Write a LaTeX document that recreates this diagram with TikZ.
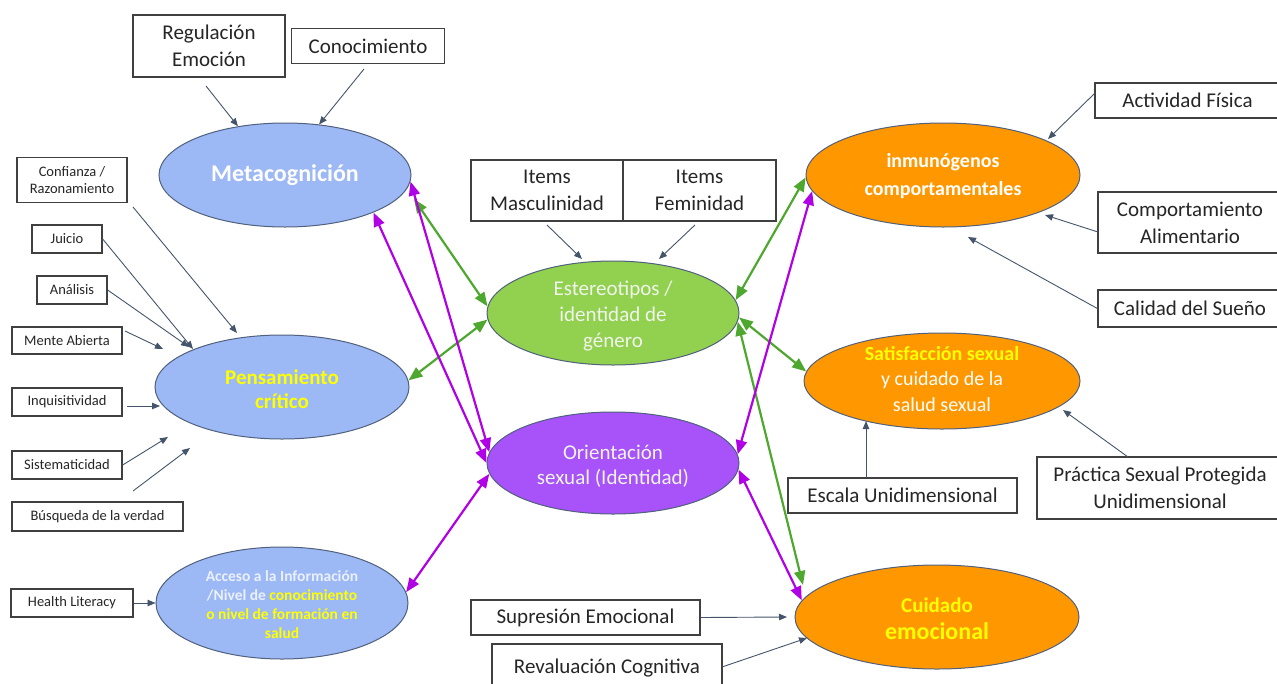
\documentclass[tikz,border=0pt]{standalone}
\usepackage{fontspec}
\setmainfont{Carlito}
\usetikzlibrary{shapes.geometric,arrows.meta}
\definecolor{boxc}{RGB}{64,64,64}
\definecolor{ellc}{RGB}{80,96,125}
\definecolor{bluef}{RGB}{156,184,245}
\definecolor{greenf}{RGB}{146,208,80}
\definecolor{purplef}{RGB}{168,82,250}
\definecolor{orangef}{RGB}{255,152,0}
\definecolor{garr}{RGB}{78,167,46}
\definecolor{parr}{RGB}{175,0,230}
\definecolor{navy}{RGB}{68,84,106}
\definecolor{yel}{RGB}{255,255,0}
\definecolor{ltxt}{RGB}{240,245,235}
\definecolor{btxt}{RGB}{235,240,255}
\tikzset{
  box/.style={draw=boxc,line width=1.3pt,fill=white,inner sep=0pt,align=center,
    font=\fontsize{21}{27}\selectfont,text=black!85},
  sbox/.style={box,font=\fontsize{14.5}{17}\selectfont},
  ell/.style={ellipse,draw=ellc,line width=1pt,inner sep=0pt},
  lab/.style={align=center,inner sep=0pt},
  nav/.style={draw=navy,line width=0.9pt,-{Triangle[length=8pt,width=6.5pt]}},
  grn/.style={draw=garr,line width=2.2pt,{Triangle[length=14pt,width=11pt]}-{Triangle[length=14pt,width=11pt]}},
  prp/.style={draw=parr,line width=2.2pt,{Triangle[length=14pt,width=11pt]}-{Triangle[length=14pt,width=11pt]}},
}
\begin{document}
\begin{tikzpicture}[x=1pt,y=-1pt]
\useasboundingbox (0,0) rectangle (1277,683);

% ellipses
\node[ell,fill=bluef,minimum width=252pt,minimum height=104pt] (meta) at (285,175) {};
\node[ell,fill=bluef,minimum width=254pt,minimum height=104pt] (pens) at (282,387) {};
\node[ell,fill=bluef,minimum width=252pt,minimum height=112pt] (acc) at (282,603) {};
\node[ell,fill=greenf,minimum width=252pt,minimum height=104pt] (est) at (613,313) {};
\node[ell,fill=purplef,minimum width=252pt,minimum height=102pt] (ori) at (613,463) {};
\node[ell,fill=orangef,minimum width=274pt,minimum height=104pt] (inm) at (943,175) {};
\node[ell,fill=orangef,minimum width=276pt,minimum height=96pt] (sat) at (942,381) {};
\node[ell,fill=orangef,minimum width=284pt,minimum height=104pt] (cui) at (937,617) {};

% boxes
\node[box,minimum width=152pt,minimum height=62pt] (reg) at (209,46) {Regulación\\Emoción};
\node[box,minimum width=153pt,minimum height=35pt] (con) at (368,46) {Conocimiento};
\node[sbox,minimum width=110pt,minimum height=45pt] (conf) at (72,180) {Confianza /\\Razonamiento};
\node[sbox,minimum width=70pt,minimum height=28pt] (jui) at (67,239) {Juicio};
\node[sbox,minimum width=70pt,minimum height=28pt] (ana) at (72,290) {Análisis};
\node[sbox,minimum width=110pt,minimum height=27pt] (men) at (67,340.5) {Mente Abierta};
\node[sbox,minimum width=110pt,minimum height=28pt] (inq) at (67,402) {Inquisitividad};
\node[sbox,minimum width=110pt,minimum height=28pt] (sis) at (67,465) {Sistematicidad};
\node[sbox,minimum width=171pt,minimum height=29pt] (bus) at (97.5,516.5) {Búsqueda de la verdad};
\node[sbox,minimum width=122pt,minimum height=28pt] (hl) at (72,603) {Health Literacy};
\node[box,minimum width=152pt,minimum height=61pt] (mas) at (547,190.5) {Items\\Masculinidad};
\node[box,minimum width=153pt,minimum height=61pt] (fem) at (699.5,190.5) {Items\\Feminidad};
\node[box,minimum width=185pt,minimum height=35pt] (act) at (1187.5,100.5) {Actividad Física};
\node[box,minimum width=184pt,minimum height=61pt] (com) at (1190,222.5) {Comportamiento\\Alimentario};
\node[box,minimum width=184pt,minimum height=37pt] (cal) at (1190,308.5) {Calidad del Sueño};
\node[box,minimum width=229pt,minimum height=35pt] (esc) at (902.5,495.5) {Escala Unidimensional};
\node[box,minimum width=246pt,minimum height=62pt] (pra) at (1160,488) {Práctica Sexual Protegida\\Unidimensional};
\node[box,minimum width=229pt,minimum height=35pt] (sup) at (585.5,617.5) {Supresión Emocional};
\node[box,minimum width=230pt,minimum height=48pt] (rev) at (607,668) {Revaluación Cognitiva};

% navy connector free ends
\coordinate (regS) at (206,86);
\coordinate (conS) at (364,69);
\coordinate (confS) at (133,207);  \coordinate (confE) at (237,333);
\coordinate (juiE) at (193,349);
\coordinate (anaE) at (189,347);
\coordinate (menS) at (125,331);   \coordinate (menE) at (163,349);
\coordinate (inqS) at (127,406);   \coordinate (inqE) at (160,406);
\coordinate (sisE) at (168,437);
\coordinate (busS) at (133,491);   \coordinate (busE) at (190,448);
\coordinate (masS) at (547,225);   \coordinate (masE) at (582,259);
\coordinate (femS) at (695,225);   \coordinate (femE) at (659,259);
\coordinate (actS) at (1095,93);   \coordinate (actE) at (1048,139);
\coordinate (comS) at (1098,232);  \coordinate (comE) at (1045,215);
\coordinate (calE) at (968,237);
\coordinate (escS) at (866,478);   \coordinate (escE) at (866,421);
\coordinate (praS) at (1128,457);  \coordinate (praE) at (1063,410);
\coordinate (supE) at (787,617);
\coordinate (revS) at (722,667);   \coordinate (revE) at (807,638);
% coloured connector free ends
\coordinate (grnM) at (414,199);
\coordinate (grnC) at (803,585);

% navy arrows
\draw[nav] (regS) -- (meta.134);
\draw[nav] (conS) -- (meta.56);
\draw[nav] (confS) -- (confE);
\draw[nav] (jui.east) -- (juiE);
\draw[nav] (ana.east) -- (anaE);
\draw[nav] (menS) -- (menE);
\draw[nav] (inqS) -- (inqE);
\draw[nav] (sis.east) -- (sisE);
\draw[nav] (busS) -- (busE);
\draw[nav] (hl.east) -- (acc.west);
\draw[nav] (masS) -- (masE);
\draw[nav] (femS) -- (femE);
\draw[nav] (actS) -- (actE);
\draw[nav] (comS) -- (comE);
\draw[nav] (cal.west) -- (calE);
\draw[nav] (escS) -- (escE);
\draw[nav] (praS) -- (praE);
\draw[nav] (sup.east) -- (supE);
\draw[nav] (revS) -- (revE);

% green arrows
\draw[grn] (grnC) -- (est.-4);
\draw[grn] (grnM) -- (est.177);
\draw[grn] (pens.3) -- (est.183);
\draw[grn] (est.6) -- (inm.181);
\draw[grn] (est.-2) -- (sat.176);

% purple arrows
\draw[prp] (meta.-3) -- (ori.175);
\draw[prp] (meta.-23) -- (ori.180);
\draw[prp] (ori.185) -- (acc.5);
\draw[prp] (ori.4) -- (inm.187);
\draw[prp] (ori.-3) -- (cui.173);

% ellipse labels
\node[lab,text=white,font=\bfseries\fontsize{24}{28}\selectfont] (metaT) at (285,175) {Metacognición};
\node[lab,text=yel,font=\bfseries\fontsize{21}{24}\selectfont] (pensT) at (282,389) {Pensamiento\\crítico};
\node[lab,text=btxt,font=\bfseries\fontsize{15.5}{19}\selectfont] (accT) at (282,605) {Acceso a la Información\\/Nivel de \textcolor{yel}{conocimiento}\\\textcolor{yel}{o nivel de formación en}\\\textcolor{yel}{salud}};
\node[lab,text=ltxt,font=\fontsize{21}{26}\selectfont] (estT) at (613,316) {Estereotipos /\\identidad de\\género};
\node[lab,text=ltxt,font=\fontsize{21}{25}\selectfont] (oriT) at (613,466) {Orientación\\sexual (Identidad)};
\node[lab,text=white,font=\bfseries\fontsize{20}{28}\selectfont] (inmT) at (943,176) {inmunógenos\\comportamentales};
\node[lab,text=white,font=\fontsize{20}{25.5}\selectfont] (satT) at (942,379) {\textcolor{yel}{\bfseries Satisfacción sexual}\\y cuidado de la\\salud sexual};
\node[lab,text=yel,font=\bfseries\fontsize{21}{27}\selectfont] (cuiT) at (937,619) {Cuidado\\{\fontsize{24}{27}\selectfont emocional}};
\end{tikzpicture}
\end{document}
